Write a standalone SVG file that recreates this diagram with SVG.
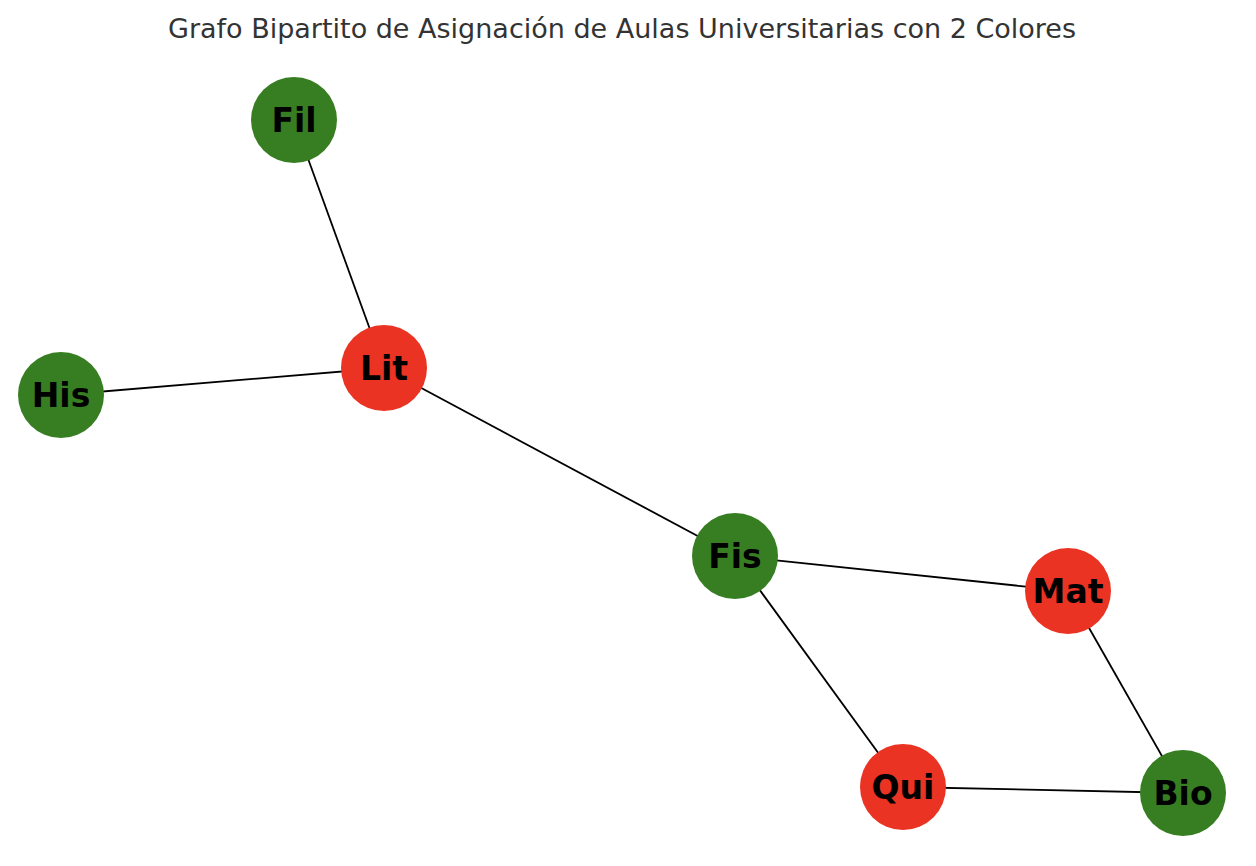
<svg xmlns="http://www.w3.org/2000/svg" width="1256" height="866" viewBox="0 0 1256 866">
<style>
.g{fill:#377e22}.r{fill:#ea3323}
.l{font-family:"DejaVu Sans",sans-serif;font-weight:bold;font-size:33px;fill:#000;text-anchor:middle;dominant-baseline:central}
.e{stroke:#000;stroke-width:1.8}
</style>
<rect width="1256" height="866" fill="#fff"/>
<text x="622" y="38" font-family="DejaVu Sans,sans-serif" font-size="27" fill="#333" text-anchor="middle">Grafo Bipartito de Asignación de Aulas Universitarias con 2 Colores</text>
<g id="edges">
<line class="e" x1="294" y1="120" x2="384" y2="368"/>
<line class="e" x1="61" y1="395" x2="384" y2="368"/>
<line class="e" x1="384" y1="368" x2="735" y2="556"/>
<line class="e" x1="735" y1="556" x2="1068" y2="591"/>
<line class="e" x1="735" y1="556" x2="903" y2="787"/>
<line class="e" x1="1068" y1="591" x2="1183" y2="793"/>
<line class="e" x1="903" y1="787" x2="1183" y2="793"/>
</g>
<g id="Fil"><circle class="g" cx="294" cy="120" r="43"/><text class="l" x="294" y="120">Fil</text></g>
<g id="Lit"><circle class="r" cx="384" cy="368" r="43"/><text class="l" x="384" y="368">Lit</text></g>
<g id="His"><circle class="g" cx="61" cy="395" r="43"/><text class="l" x="61" y="395">His</text></g>
<g id="Fis"><circle class="g" cx="735" cy="556" r="43"/><text class="l" x="735" y="556">Fis</text></g>
<g id="Mat"><circle class="r" cx="1068" cy="591" r="43"/><text class="l" x="1068" y="591">Mat</text></g>
<g id="Qui"><circle class="r" cx="903" cy="787" r="43"/><text class="l" x="903" y="787">Qui</text></g>
<g id="Bio"><circle class="g" cx="1183" cy="793" r="43"/><text class="l" x="1183" y="793">Bio</text></g>
</svg>
